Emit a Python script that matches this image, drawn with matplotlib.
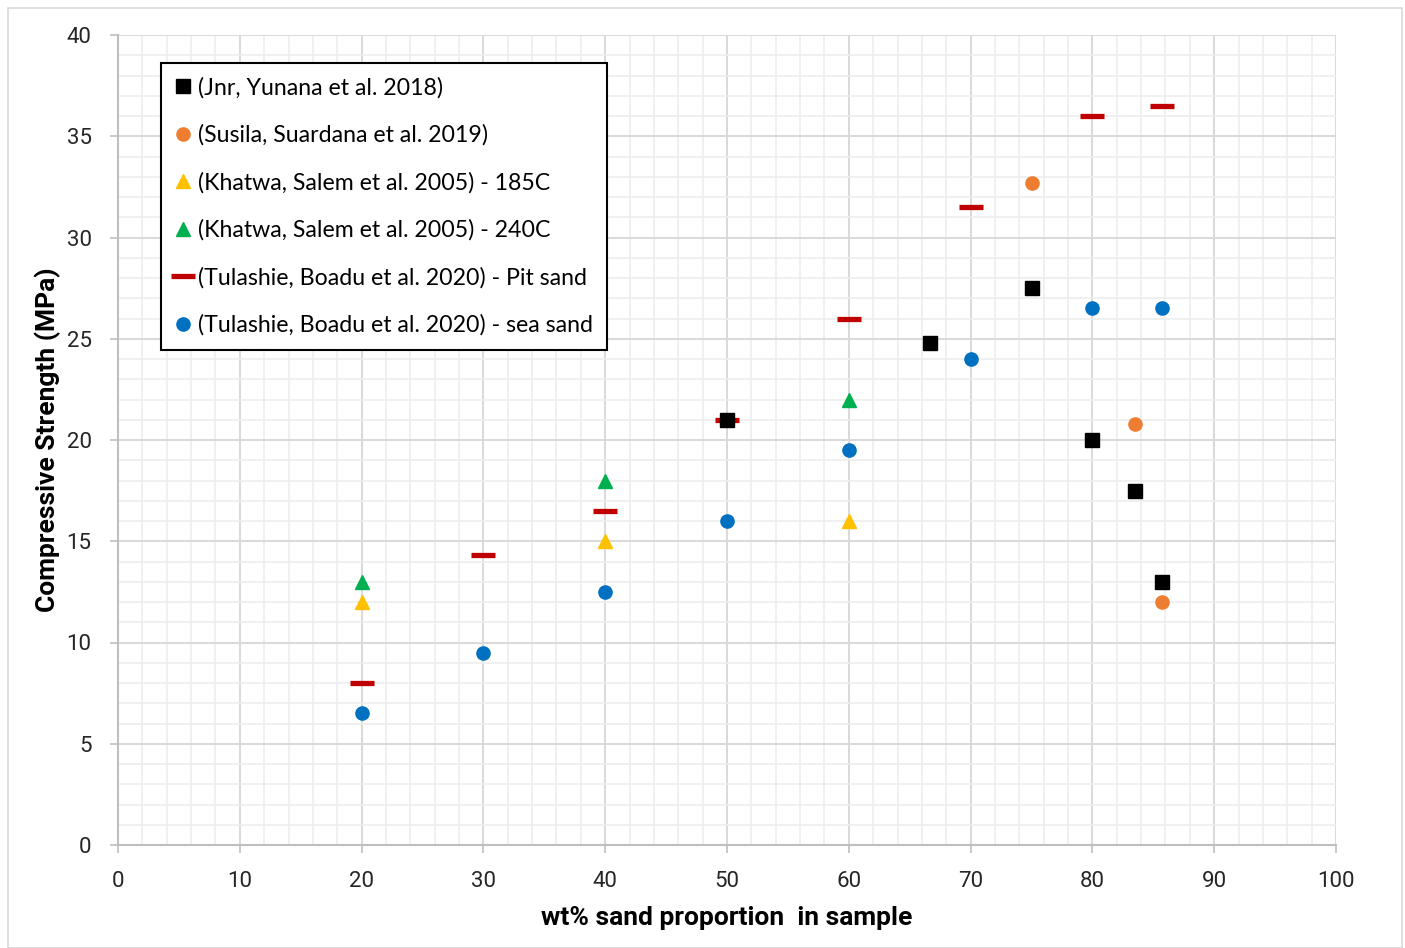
import matplotlib.pyplot as plt
from matplotlib.patches import Rectangle
from matplotlib.ticker import MultipleLocator

# ---- data ----
jnr_x = [50, 66.7, 75, 80, 83.5, 85.7]
jnr_y = [21, 24.8, 27.5, 20, 17.5, 13]

susila_x = [75, 83.5, 85.7]
susila_y = [32.7, 20.8, 12]

khat185_x = [20, 40, 60]
khat185_y = [12, 15, 16]

khat240_x = [20, 40, 60]
khat240_y = [13, 18, 22]

pit_x = [20, 30, 40, 50, 60, 70, 80, 85.7]
pit_y = [8, 14.3, 16.5, 21, 26, 31.5, 36, 36.5]

sea_x = [20, 30, 40, 50, 60, 70, 80, 85.7]
sea_y = [6.5, 9.5, 12.5, 16, 19.5, 24, 26.5, 26.5]

labels = ["(Jnr, Yunana et al. 2018)",
          "(Susila, Suardana et al. 2019)",
          "(Khatwa, Salem et al. 2005) - 185C",
          "(Khatwa, Salem et al. 2005) - 240C",
          "(Tulashie, Boadu et al. 2020) - Pit sand",
          "(Tulashie, Boadu et al. 2020) - sea sand"]

W, H = 1405, 948
fig = plt.figure(figsize=(W / 100, H / 100), dpi=100)
fig.patches.append(Rectangle((8 / W, 0), 1394 / W, 1 - 8 / H, transform=fig.transFigure,
                             fill=False, edgecolor="#D9D9D9", linewidth=1.2))

ax = fig.add_axes([118 / W, 1 - 845 / H, (1336 - 118) / W, (845 - 35) / H])

ax.plot(jnr_x, jnr_y, ls="none", marker="s", ms=10, color="black", label=labels[0], zorder=5)
ax.plot(susila_x, susila_y, ls="none", marker="o", ms=9.5, color="#ED7D31", label=labels[1], zorder=5)
ax.plot(khat185_x, khat185_y, ls="none", marker="^", ms=10, color="#FFC000", label=labels[2], zorder=5)
ax.plot(khat240_x, khat240_y, ls="none", marker="^", ms=10, color="#00B050", label=labels[3], zorder=5)
ax.plot(pit_x, pit_y, ls="none", marker="_", ms=17, mew=3.8, color="#C00000", label=labels[4], zorder=4)
ax.plot(sea_x, sea_y, ls="none", marker="o", ms=9.5, color="#0070C0", label=labels[5], zorder=5)

ax.set_xlim(0, 100)
ax.set_ylim(0, 40)
ax.xaxis.set_major_locator(MultipleLocator(10))
ax.xaxis.set_minor_locator(MultipleLocator(2))
ax.yaxis.set_major_locator(MultipleLocator(5))
ax.yaxis.set_minor_locator(MultipleLocator(1))
ax.grid(which="major", color="#D9D9D9", linewidth=1.4)
ax.grid(which="minor", color="#EDEDED", linewidth=1.2)
ax.set_axisbelow(True)

for s in ["top", "right"]:
    ax.spines[s].set_visible(False)
for s in ["left", "bottom"]:
    ax.spines[s].set_color("#BFBFBF")
    ax.spines[s].set_linewidth(1.5)
ax.tick_params(which="major", length=6, width=1.2, color="#BFBFBF", direction="out",
               labelsize=16, labelcolor="#262626")
ax.tick_params(axis="x", pad=13)
ax.tick_params(axis="y", pad=13)
ax.tick_params(which="minor", length=0)
for t in ax.get_xticklabels() + ax.get_yticklabels():
    t.set_fontfamily("Roboto")

ax.set_xlabel("wt% sand proportion  in sample", fontsize=19, fontweight="bold",
              family="Roboto", labelpad=10)
ax.set_ylabel("Compressive Strength (MPa)", fontsize=19, fontweight="bold",
              family="Roboto", labelpad=4)

leg = ax.legend(loc="upper left", bbox_to_anchor=(161 / W, 1 - 63 / H),
                bbox_transform=fig.transFigure, borderaxespad=0,
                prop={"family": "Lato", "size": 16.7}, fancybox=False,
                edgecolor="black", framealpha=1, labelspacing=1.12,
                handlelength=0.7, handletextpad=0.3, borderpad=0.6)
leg.get_frame().set_linewidth(1.5)

fig.savefig("out.png", dpi=100)
